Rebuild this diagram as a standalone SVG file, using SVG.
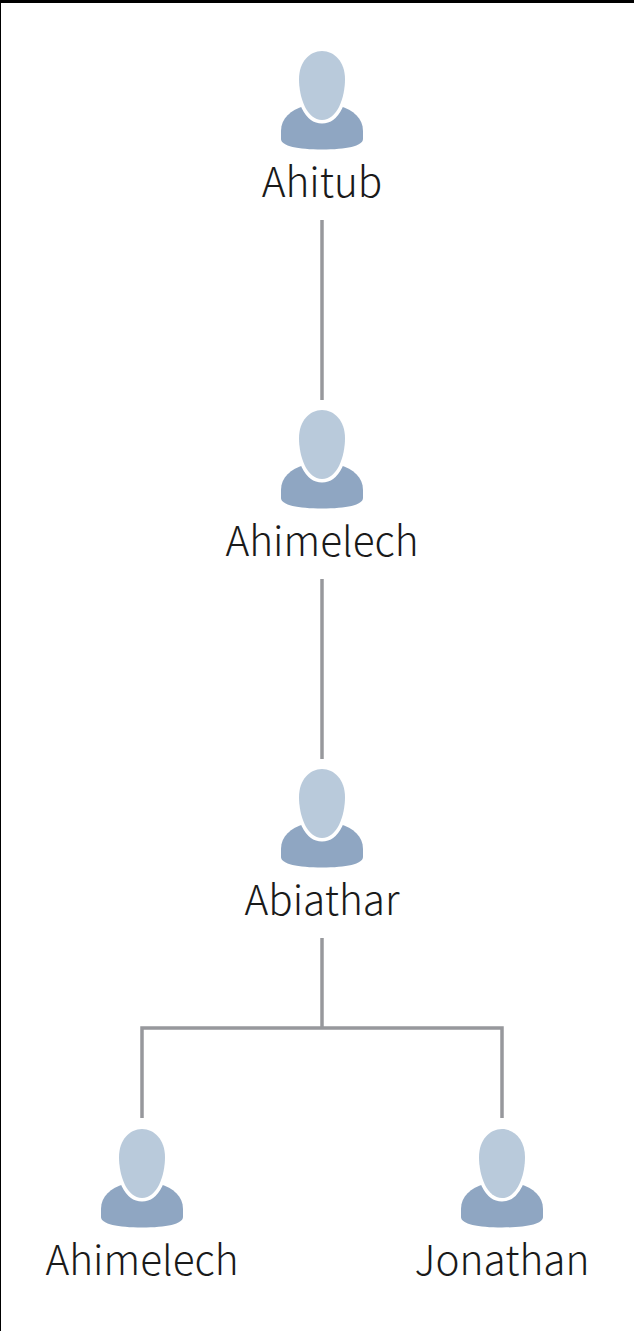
<svg xmlns="http://www.w3.org/2000/svg" width="634" height="1331" viewBox="0 0 634 1331">
<style>
.c{fill:none;stroke:#97989c;stroke-width:3.5}
.b{fill:#8fa6c2}
.h{fill:#b9cadb;stroke:#fff;stroke-width:7;paint-order:stroke}
text{font-family:"Noto Sans CJK SC","Noto Sans",sans-serif;font-weight:200;font-size:40.5px;fill:#1a1a1a;text-anchor:middle}
</style>
<defs>
<g id="p">
<path class="b" d="M-41 31C-41 18 -31 10 -18 6L18 6C31 10 41 18 41 31L41 39C41 46 24 49.500 0 49.500C-24 49.500 -41 46 -41 39Z"/>
<path class="h" d="M0 -49C12.500 -49 23 -38 23 -21C23 -2 15 20 0 20C-15 20 -23 -2 -23 -21C-23 -38 -12.500 -49 0 -49Z"/>
</g>
</defs>
<rect width="634" height="1331" fill="#fff"/>
<rect width="634" height="3" fill="#000"/>
<rect width="1" height="1331" fill="#000"/>
<g id="connectors">
<path class="c" d="M322 220V400"/>
<path class="c" d="M322 579V759"/>
<path class="c" d="M322 938V1028"/>
<path class="c" d="M142 1118V1028H502V1118"/>
</g>
<g id="n1"><use href="#p" x="322" y="100"/><text x="322" y="197">Ahitub</text></g>
<g id="n2"><use href="#p" x="322" y="459"/><text x="322" y="556">Ahimelech</text></g>
<g id="n3"><use href="#p" x="322" y="818"/><text x="322" y="915">Abiathar</text></g>
<g id="n4"><use href="#p" x="142" y="1178"/><text x="142" y="1275">Ahimelech</text></g>
<g id="n5"><use href="#p" x="502" y="1178"/><text x="502" y="1275">Jonathan</text></g>
</svg>
